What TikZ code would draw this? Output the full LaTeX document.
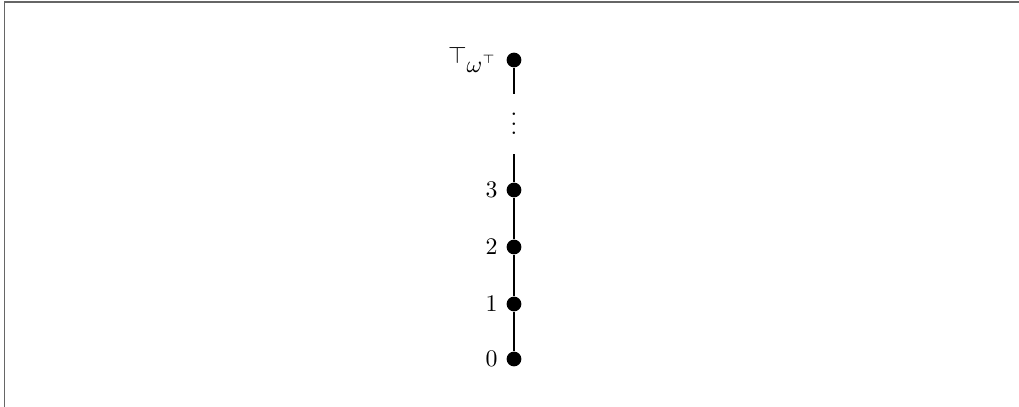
\documentclass[tikz,border=0pt]{standalone}
\begin{document}
\begin{tikzpicture}[x=0.42pt, y=-0.42pt, thick,
    pt/.style={circle, fill, inner sep=0pt, minimum size=6.2pt},
    every label/.style={label distance=-0.3pt}]
    \useasboundingbox (0,0) rectangle (1019,407);
    % Frame
    \draw[black!60, line width=0.8pt] (4.5,407) -- (4.5,1.8) -- (1019,1.8);

    % Points of the chain
    \node[pt, label=left:$0$] (n0) at (514,359) {};
    \node[pt, label=left:$1$] (n1) at (514,304) {};
    \node[pt, label=left:$2$] (n2) at (514,247) {};
    \node[pt, label=left:$3$] (n3) at (514,190) {};
    \node[pt, label=left:$\top_{\textstyle\omega^{\scriptscriptstyle\top}}$] (top) at (514,60) {};
    \node[inner sep=0pt, text height=9.2pt, text depth=0pt,
          minimum height=24.4pt] (dots) at (514,124) {$\vdots$};

    % Edges
    \draw (n0) -- (n1) -- (n2) -- (n3) -- (dots);
    \draw (dots) -- (top);
\end{tikzpicture}
\end{document}
